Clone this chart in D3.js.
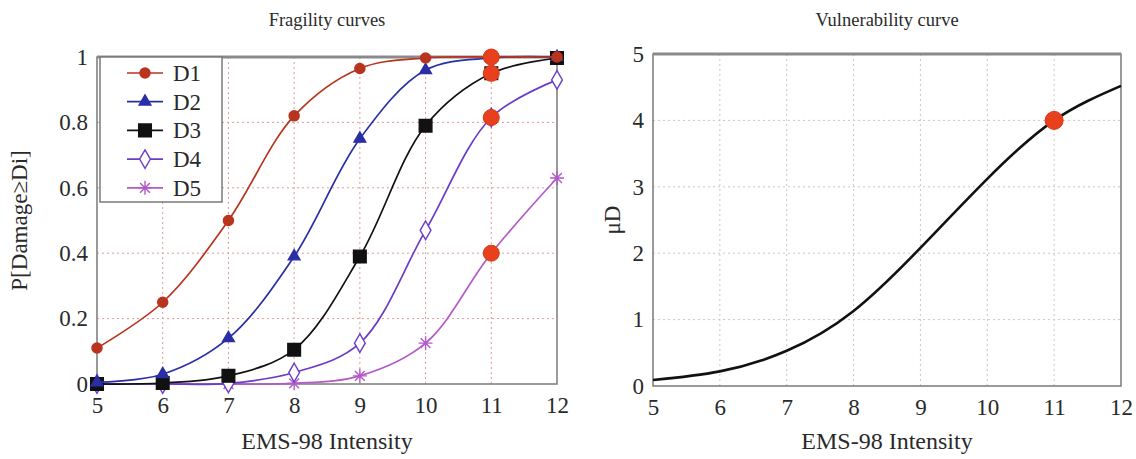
<!DOCTYPE html>
<html>
<head>
<meta charset="utf-8">
<script src="https://d3js.org/d3.v7.min.js"></script>
<style>
  body { margin: 0; background: #fff; }
  text { font-family: "Liberation Serif", "DejaVu Serif", serif; fill: #2a2a2a; }
</style>
</head>
<body>
<svg id="chart" width="1136" height="459"></svg>
<script>
// intensities on the x axis
var intensity = [5, 6, 7, 8, 9, 10, 11, 12];
var xTicks = [5, 6, 7, 8, 9, 10, 11, 12];
var fragTicks = [0, 0.2, 0.4, 0.6, 0.8, 1];
var vulnTicks = [0, 1, 2, 3, 4, 5];

// fragility curves, P[Damage>=Di] read at each intensity
var dmg1 = [0.11, 0.25, 0.50, 0.82, 0.965, 0.997, 1.0, 1.0];
var dmg2 = [0.005, 0.03, 0.14, 0.39, 0.75, 0.96, 0.997, 1.0];
var dmg3 = [0.0, 0.003, 0.025, 0.105, 0.39, 0.79, 0.95, 0.997];
var dmg4 = [0.0, 0.0, 0.002, 0.035, 0.125, 0.47, 0.815, 0.93];
var dmg5 = [0.0, 0.0, 0.0, 0.002, 0.025, 0.125, 0.40, 0.63];
var seriesNames = ["D1", "D2", "D3", "D4", "D5"];

// highlighted points at intensity 11
var highlightX = [11, 11, 11, 11];
var highlightY = [1.0, 0.95, 0.815, 0.40];

// vulnerability curve, mean damage grade
var vulnX = [5, 6, 7, 8, 9, 10, 11, 12];
var vulnY = [0.09, 0.22, 0.53, 1.13, 2.08, 3.12, 4.0, 4.52];
var vulnMarkX = [11];
var vulnMarkY = [4.0];

var svg = d3.select("#chart");

var styles = {
	D1: { color: "#b8341f", sym: d3.symbolCircle, size: 80, fill: true },
	D2: { color: "#2a2ea6", sym: d3.symbolTriangle, size: 60, fill: true },
	D3: { color: "#111111", sym: d3.symbolSquare, size: 160, fill: true },
	D4: { color: "#6a3cc8", sym: d3.symbolDiamond, size: 100, fill: false },
	D5: { color: "#b35ac8", sym: "star", size: 0, fill: false }
};

/**
 * draw one framed panel with dotted grid, returns the scales and group
 */
var drawPanel = function (left, right, top, bottom, yDomain, yTicks, gridColor, title, yLabel, yLabelX, yFmt) {
	var x = d3.scaleLinear().domain([5, 12]).range([left, right]);
	var y = d3.scaleLinear().domain(yDomain).range([bottom, top]);
	var g = svg.append("g");

	// grid
	g.selectAll(".vg").data(xTicks.slice(1, -1)).enter().append("line")
		.attr("x1", function(d) { return x(d); }).attr("x2", function(d) { return x(d); })
		.attr("y1", top).attr("y2", bottom)
		.style("stroke", gridColor).style("stroke-width", 1).style("stroke-dasharray", "2,3");
	g.selectAll(".hg").data(yTicks.slice(1, -1)).enter().append("line")
		.attr("y1", function(d) { return y(d); }).attr("y2", function(d) { return y(d); })
		.attr("x1", left).attr("x2", right)
		.style("stroke", gridColor).style("stroke-width", 1).style("stroke-dasharray", "2,3");

	// frame
	g.append("rect").attr("x", left).attr("y", top).attr("width", right - left).attr("height", bottom - top)
		.style("fill", "none").style("stroke", "#7a7a7a").style("stroke-width", 1.5);
	g.append("line").attr("x1", left).attr("x2", right).attr("y1", top).attr("y2", top)
		.style("stroke", "#8a8a8a").style("stroke-width", 3);

	// tick labels via axes
	var xAxis = d3.axisBottom(x).tickValues(xTicks).tickSize(0).tickPadding(13).tickFormat(d3.format("d"));
	var ax = g.append("g").attr("transform", "translate(0," + bottom + ")").call(xAxis)
		.attr("font-family", "Liberation Serif");
	ax.select(".domain").remove();
	ax.selectAll("text").style("font-size", "23px").attr("fill", "#2a2a2a");

	var yAxis = d3.axisLeft(y).tickValues(yTicks).tickSize(0).tickPadding(9).tickFormat(yFmt);
	var ay = g.append("g").attr("transform", "translate(" + left + ",0)").call(yAxis)
		.attr("font-family", "Liberation Serif");
	ay.select(".domain").remove();
	ay.selectAll("text").style("font-size", "23px").attr("fill", "#2a2a2a");

	// titles
	g.append("text").attr("x", (left + right) / 2).attr("y", 26).attr("text-anchor", "middle")
		.style("font-size", "18.5px").text(title);
	g.append("text").attr("x", (left + right) / 2).attr("y", 449).attr("text-anchor", "middle")
		.style("font-size", "24px").text("EMS-98 Intensity");
	g.append("text").attr("transform", "translate(" + yLabelX + "," + ((top + bottom) / 2) + ") rotate(-90)")
		.attr("text-anchor", "middle").style("font-size", "23px").text(yLabel);

	return { x: x, y: y, g: g };
};

var starPath = function (r) {
	return "M" + (-r) + ",0L" + r + ",0M0," + (-r) + "L0," + r +
		"M" + (-r * 0.7) + "," + (-r * 0.7) + "L" + (r * 0.7) + "," + (r * 0.7) +
		"M" + (-r * 0.7) + "," + (r * 0.7) + "L" + (r * 0.7) + "," + (-r * 0.7);
};

var markerPath = function (st) {
	if (st.sym === "star") { return starPath(7); }
	return d3.symbol().type(st.sym).size(st.size)();
};

// ---- left panel: fragility curves
var fragFmt = function(d) { return d === 0 || d === 1 ? d3.format("d")(d) : d3.format(".1f")(d); };
var L = drawPanel(97, 557, 57, 384, [0, 1], fragTicks, "#e39a9a", "Fragility curves", "P[Damage≥Di]", 27, fragFmt);

var allSeries = [dmg1, dmg2, dmg3, dmg4, dmg5];
var line = d3.line().curve(d3.curveCatmullRom.alpha(0.5))
	.x(function(d) { return L.x(d[0]); })
	.y(function(d) { return L.y(d[1]); });

allSeries.slice().reverse().forEach(function (vals, ri) {
	var i = allSeries.length - 1 - ri;
	var st = styles[seriesNames[i]];
	var pts = intensity.map(function(v, k) { return [v, vals[k]]; });
	L.g.append("path").datum(pts).attr("d", line)
		.style("fill", "none").style("stroke", st.color).style("stroke-width", 1.7);
	L.g.selectAll(".m" + i).data(pts).enter().append("path")
		.attr("transform", function(d) { return "translate(" + L.x(d[0]) + "," + L.y(d[1]) + ")"; })
		.attr("d", markerPath(st))
		.style("fill", st.fill ? st.color : "#fff")
		.style("fill-opacity", st.sym === "star" ? 0 : 1)
		.style("stroke", st.color).style("stroke-width", 1.4);
});

// highlighted points
L.g.selectAll(".hl").data(highlightX.map(function(v, k) { return [v, highlightY[k]]; })).enter().append("circle")
	.attr("cx", function(d) { return L.x(d[0]); }).attr("cy", function(d) { return L.y(d[1]); })
	.attr("r", 8).style("fill", "#e8401c").style("stroke", "#d33a1a").style("stroke-width", 1);

// legend
var lg = L.g.append("g");
lg.append("rect").attr("x", 100).attr("y", 57).attr("width", 122).attr("height", 145)
	.style("fill", "#fff").style("stroke", "#7a7a7a").style("stroke-width", 1.5);
seriesNames.forEach(function (name, i) {
	var st = styles[name];
	var yy = 73 + i * 28.7;
	lg.append("line").attr("x1", 127).attr("x2", 163).attr("y1", yy).attr("y2", yy)
		.style("stroke", st.color).style("stroke-width", 1.7);
	lg.append("path").attr("transform", "translate(145," + yy + ")").attr("d", markerPath(st))
		.style("fill", st.fill ? st.color : "#fff").style("fill-opacity", st.sym === "star" ? 0 : 1)
		.style("stroke", st.color).style("stroke-width", 1.4);
	lg.append("text").attr("x", 173).attr("y", yy + 8).style("font-size", "23px").text(name);
});

// ---- right panel: vulnerability curve
var R = drawPanel(653, 1121, 54, 386, [0, 5], vulnTicks, "#c8c8c8", "Vulnerability curve", "μD", 620, d3.format("d"));

var vLine = d3.line().curve(d3.curveNatural)
	.x(function(d) { return R.x(d[0]); })
	.y(function(d) { return R.y(d[1]); });
R.g.append("path").datum(vulnX.map(function(v, k) { return [v, vulnY[k]]; })).attr("d", vLine)
	.style("fill", "none").style("stroke", "#111").style("stroke-width", 2.6);
R.g.selectAll(".vm").data(vulnMarkX.map(function(v, k) { return [v, vulnMarkY[k]]; })).enter().append("circle")
	.attr("cx", function(d) { return R.x(d[0]); }).attr("cy", function(d) { return R.y(d[1]); })
	.attr("r", 9).style("fill", "#e8401c").style("stroke", "#d33a1a").style("stroke-width", 1);
</script>
</body>
</html>
